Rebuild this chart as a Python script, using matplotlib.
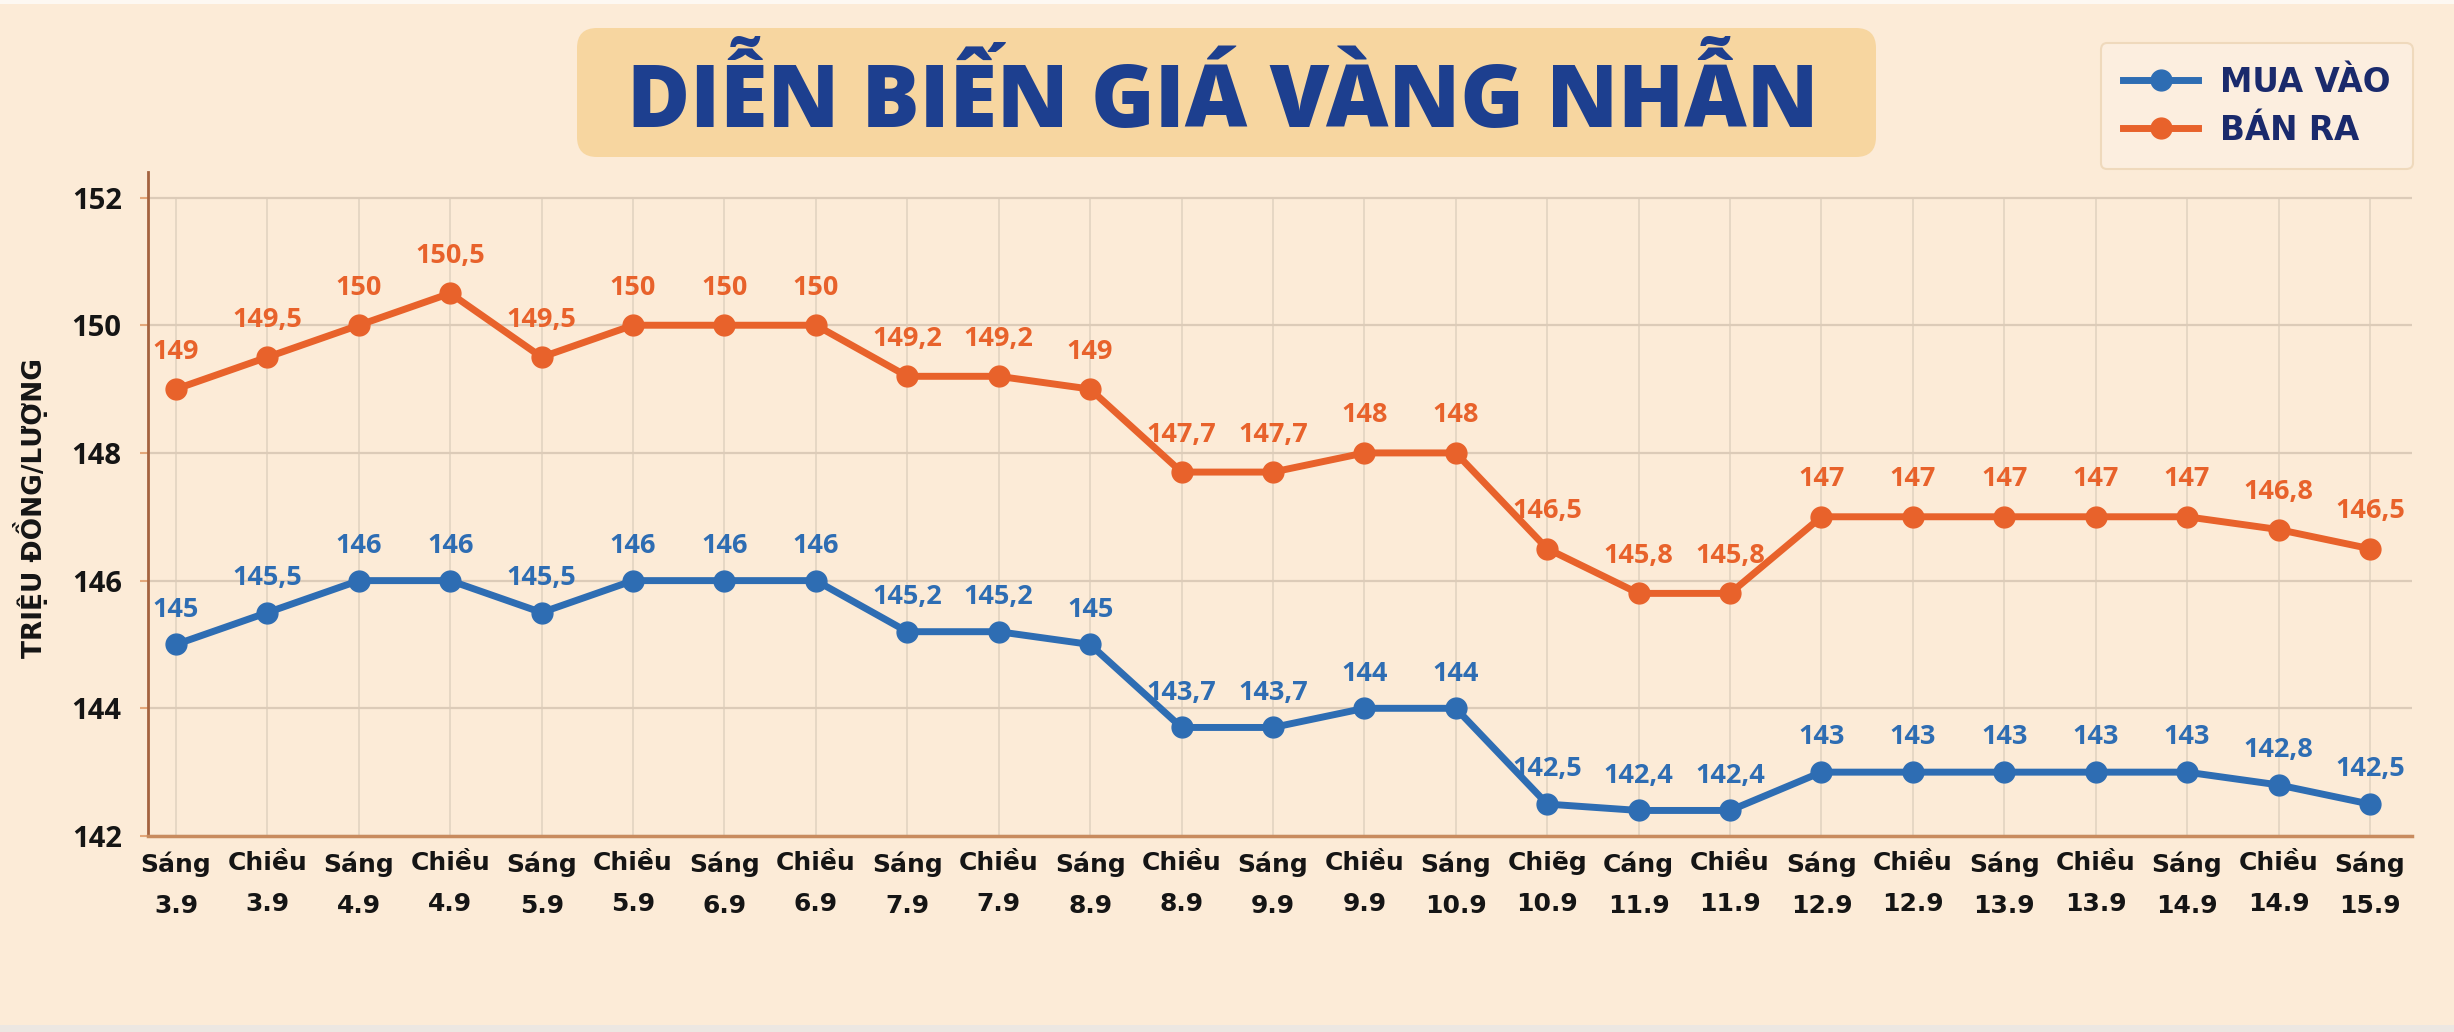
import numpy as np
import matplotlib.pyplot as plt
from matplotlib.patches import FancyBboxPatch, Rectangle
from matplotlib.transforms import IdentityTransform
from matplotlib.lines import Line2D

# du lieu doc tu hinh
sessions = ["Sáng", "Chiều", "Sáng", "Chiều", "Sáng", "Chiều", "Sáng", "Chiều",
            "Sáng", "Chiều", "Sáng", "Chiều", "Sáng", "Chiều", "Sáng", "Chiẽg",
            "Cáng", "Chiều", "Sáng", "Chiều", "Sáng", "Chiều", "Sáng", "Chiều", "Sáng"]
dates = ["3.9", "3.9", "4.9", "4.9", "5.9", "5.9", "6.9", "6.9", "7.9", "7.9",
         "8.9", "8.9", "9.9", "9.9", "10.9", "10.9", "11.9", "11.9", "12.9", "12.9",
         "13.9", "13.9", "14.9", "14.9", "15.9"]
mua_vao = [145, 145.5, 146, 146, 145.5, 146, 146, 146, 145.2, 145.2, 145, 143.7,
           143.7, 144, 144, 142.5, 142.4, 142.4, 143, 143, 143, 143, 143, 142.8, 142.5]
ban_ra = [149, 149.5, 150, 150.5, 149.5, 150, 150, 150, 149.2, 149.2, 149, 147.7,
          147.7, 148, 148, 146.5, 145.8, 145.8, 147, 147, 147, 147, 147, 146.8, 146.5]
y_ticks = [142, 144, 146, 148, 150, 152]

W, H = 2454, 1032
BG = '#FCEBD7'
BLUE = '#2E6DB3'
ORANGE = '#E8622B'
NAVY = '#1A2A6C'

fig = plt.figure(figsize=(W / 100, H / 100), dpi=100)
fig.patch.set_facecolor(BG)

# vien tren / duoi cua anh chup
fig.add_artist(Rectangle((0, H - 4), W, 4, transform=IdentityTransform(),
                         facecolor='#FDF8F2', edgecolor='none'))
fig.add_artist(Rectangle((0, 0), W, 7, transform=IdentityTransform(),
                         facecolor='#ECE7E2', edgecolor='none'))

# hop tieu de
fig.add_artist(FancyBboxPatch((577, H - 157), 1299, 129,
                              boxstyle='round,pad=0,rounding_size=20',
                              transform=IdentityTransform(),
                              facecolor='#F7D6A0', edgecolor='none'))
fig.text(1223 / W, 1 - 127 / H, 'DIỄN BIẾN GIÁ VÀNG NHẪN', ha='center', va='baseline',
         fontsize=62, family=['Open Sans', 'DejaVu Sans'], weight='heavy', color='#1D3F8F')

ax = fig.add_axes([148 / W, 1 - 836 / H, (2412 - 148) / W, (836 - 172) / H])
ax.set_facecolor('none')
x = np.arange(len(sessions))

ax.set_xlim(-0.306, 24.46)
ax.set_ylim(142, 152.4)

ax.vlines(x, 142, 152, color='#E4D5C3', lw=1.3, zorder=0)
ax.set_yticks(y_ticks)
ax.yaxis.grid(True, color='#DCCBB8', lw=1.6, zorder=0)

ax.plot(x, mua_vao, color=BLUE, lw=5, marker='o', ms=15, zorder=3,
        label='MUA VÀO')
ax.plot(x, ban_ra, color=ORANGE, lw=5, marker='o', ms=15, zorder=3,
        label='BÁN RA')

for xi, v in zip(x, mua_vao):
    ax.annotate(f'{v:g}'.replace('.', ','), (xi, v), xytext=(0, 20),
                textcoords='offset points', ha='center', va='baseline',
                fontsize=19.5, family=['Open Sans', 'DejaVu Sans'], weight='bold',
                color=BLUE, zorder=4)
for xi, v in zip(x, ban_ra):
    ax.annotate(f'{v:g}'.replace('.', ','), (xi, v), xytext=(0, 22),
                textcoords='offset points', ha='center', va='baseline',
                fontsize=19.5, family=['Open Sans', 'DejaVu Sans'], weight='bold',
                color=ORANGE, zorder=4)

ax.set_xticks(x)
ax.set_xticklabels([s + '\n' + d for s, d in zip(sessions, dates)],
                   family='DejaVu Sans', weight='bold', fontsize=18, color='#151515')
for lab in ax.get_xticklabels():
    lab.set_linespacing(1.9)
ax.tick_params(axis='x', length=0, pad=11)
ax.set_yticklabels([str(t) for t in y_ticks], family=['Open Sans', 'DejaVu Sans'],
                   weight='bold', fontsize=21, color='#151515')
ax.tick_params(axis='y', length=6, width=1.5, color='#E3A77A', pad=13)

for side in ['top', 'right']:
    ax.spines[side].set_visible(False)
ax.spines['left'].set_color('#A4633F')
ax.spines['left'].set_linewidth(2)
ax.spines['bottom'].set_color('#C88B5E')
ax.spines['bottom'].set_linewidth(2.5)

fig.text(31 / W, 1 - 508 / H, 'TRIỆU ĐỒNG/LƯỢNG', rotation=90, ha='center', va='center',
         family='DejaVu Sans', weight='bold', fontsize=19, color='#151515')

handles = [Line2D([], [], color=BLUE, lw=5, marker='o', ms=15),
           Line2D([], [], color=ORANGE, lw=5, marker='o', ms=15)]
leg = fig.legend(handles, ['MUA VÀO', 'BÁN RA'], loc='upper right',
                 bbox_to_anchor=(2413 / W, 1 - 43 / H), borderaxespad=0,
                 prop={'family': 'DejaVu Sans', 'weight': 'bold', 'size': 23.5},
                 handlelength=2.3, handletextpad=0.65, labelspacing=0.45,
                 borderpad=0.7, fancybox=True, framealpha=1,
                 facecolor='#FCEEDF', edgecolor='#EFD9BC')
leg.get_frame().set_linewidth(1.5)
for t in leg.get_texts():
    t.set_color(NAVY)

fig.savefig('out.png', dpi=100, facecolor=fig.get_facecolor())
